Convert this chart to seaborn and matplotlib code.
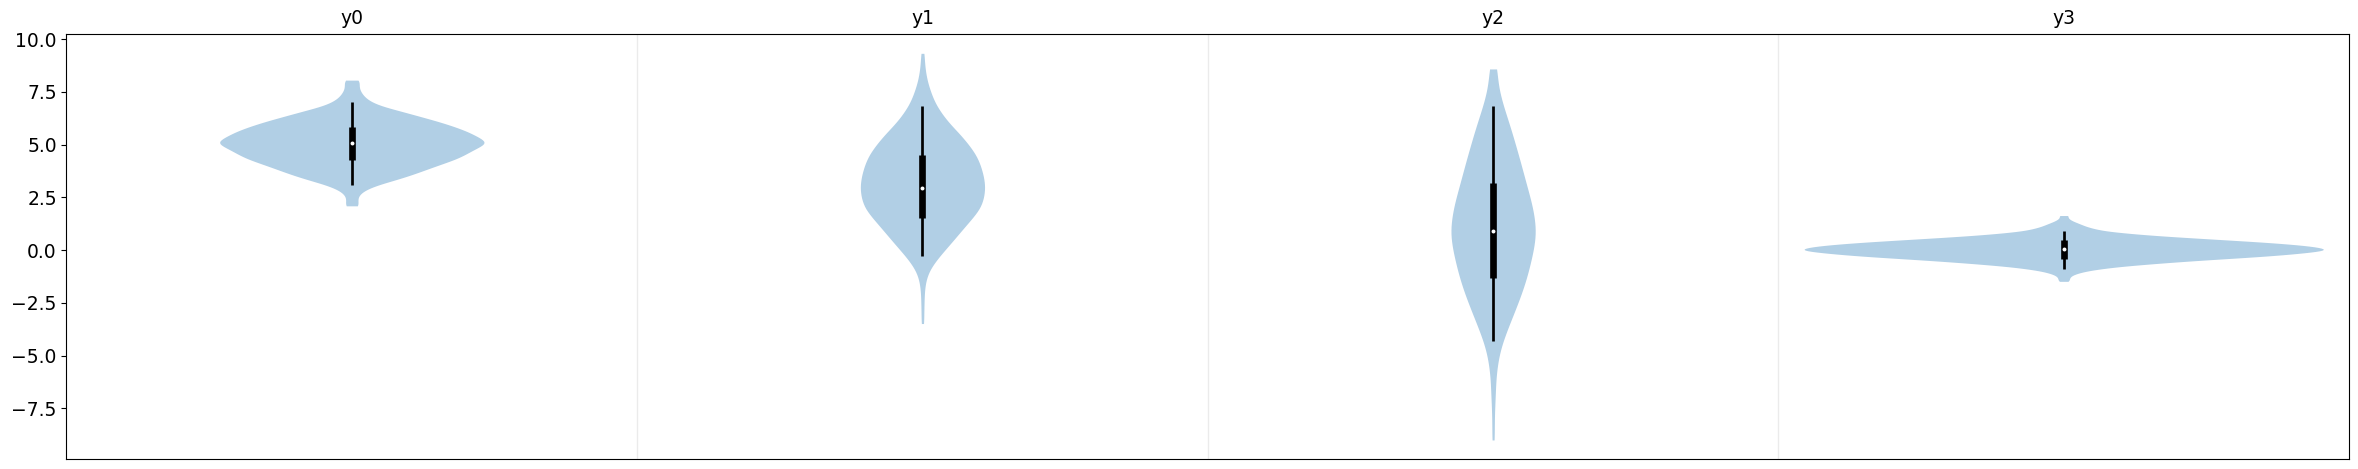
import matplotlib
matplotlib.use("Agg")
import matplotlib.pyplot as plt
import numpy as np
import pandas as pd
import seaborn as sns

names = ["y0", "y1", "y2", "y3"]

y0_levels = [2.10, 2.35, 2.60, 2.85, 3.10, 3.35, 3.60, 3.85, 4.10, 4.35, 4.60, 4.85, 5.10,
             5.35, 5.60, 5.85, 6.10, 6.35, 6.60, 6.85, 7.10, 7.35, 7.60, 7.85, 8.06]
y0_counts = [30, 21, 24, 48, 99, 174, 237, 291, 348, 408, 444, 480, 528,
             486, 450, 396, 333, 258, 186, 105, 63, 42, 30, 24, 30]

y1_levels = [-3.48, -3.0, -2.5, -2.0, -1.5, -1.0, -0.5, 0.0, 0.5, 1.0, 1.5, 2.0, 2.5, 3.0,
             3.5, 4.0, 4.5, 5.0, 5.5, 6.0, 6.5, 7.0, 7.5, 8.0, 8.5, 9.0, 9.33]
y1_counts = [5, 5, 6, 7, 11, 23, 50, 84, 119, 152, 187, 220, 232, 237,
             231, 220, 204, 175, 142, 102, 71, 46, 31, 18, 11, 6, 5]

y2_levels = [-9.0, -8.3, -7.6, -6.9, -6.2, -5.5, -4.8, -4.1, -3.4, -2.7, -2.0, -1.3, -0.6,
             0.1, 0.8, 1.5, 2.2, 2.9, 3.6, 4.3, 5.0, 5.7, 6.4, 7.1, 7.8, 8.59]
y2_counts = [5, 4, 5, 8, 9, 14, 23, 40, 61, 82, 102, 119, 132,
             144, 152, 147, 137, 122, 108, 94, 79, 64, 47, 30, 18, 17]

y3_levels = [-1.48, -1.4, -1.3, -1.2, -1.1, -1.0, -0.9, -0.8, -0.7, -0.6, -0.5, -0.4, -0.3,
             -0.2, -0.1, 0.0, 0.1, 0.2, 0.3, 0.4, 0.5, 0.6, 0.7, 0.8, 0.9, 1.0, 1.1, 1.2,
             1.3, 1.4, 1.5, 1.64]
y3_counts = [18, 18, 21, 27, 48, 75, 123, 180, 264, 360, 462, 585, 708,
             804, 879, 945, 927, 879, 795, 690, 558, 435, 312, 228, 147, 114, 84, 66,
             48, 27, 18, 24]

# inner box summary
box_low = [4.26, 1.52, -1.30, -0.41]
box_high = [5.84, 4.53, 3.20, 0.50]
medians = [5.07, 2.96, 0.92, 0.04]
whisker_low = [3.10, -0.29, -4.31, -0.91]
whisker_high = [7.00, 6.84, 6.84, 0.93]

all_levels = [y0_levels, y1_levels, y2_levels, y3_levels]
all_counts = [y0_counts, y1_counts, y2_counts, y3_counts]
df = pd.concat(
    [pd.DataFrame({"series": n, "value": np.repeat(lv, ct)})
     for n, lv, ct in zip(names, all_levels, all_counts)],
    ignore_index=True,
)

fig = plt.figure(figsize=(23.58, 4.69), dpi=100)
ax = fig.add_axes([0.0282, 0.0207, 0.9680, 0.9068])

sns.violinplot(
    data=df, x="series", y="value", order=names,
    color="#b1cfe5", saturation=1, linewidth=0, inner=None,
    cut=0, bw_method=0.17, width=0.91, density_norm="count", ax=ax,
)

pos = np.arange(len(names))
ax.vlines(pos, whisker_low, whisker_high, color="black", linewidth=1.95, zorder=3)
ax.vlines(pos, box_low, box_high, color="black", linewidth=4.8, zorder=4)
ax.scatter(pos, medians, s=8, color="white", zorder=5, linewidths=0)
ax.set_xlim(-0.5, len(names) - 0.5)

# faint separators between the categories
ax.set_xticks([0.5, 1.5, 2.5], minor=True)
ax.grid(False)
ax.grid(which="minor", axis="x", color="#ebebeb", linewidth=1)

ax.xaxis.tick_top()
ax.tick_params(axis="x", which="both", length=0, pad=4, labelsize=13.5)
ax.tick_params(axis="y", labelsize=13.5)
ax.set_xlabel("")
ax.set_ylabel("")
for spine in ax.spines.values():
    spine.set_color("black")

fig.savefig("out.png", dpi=100)
